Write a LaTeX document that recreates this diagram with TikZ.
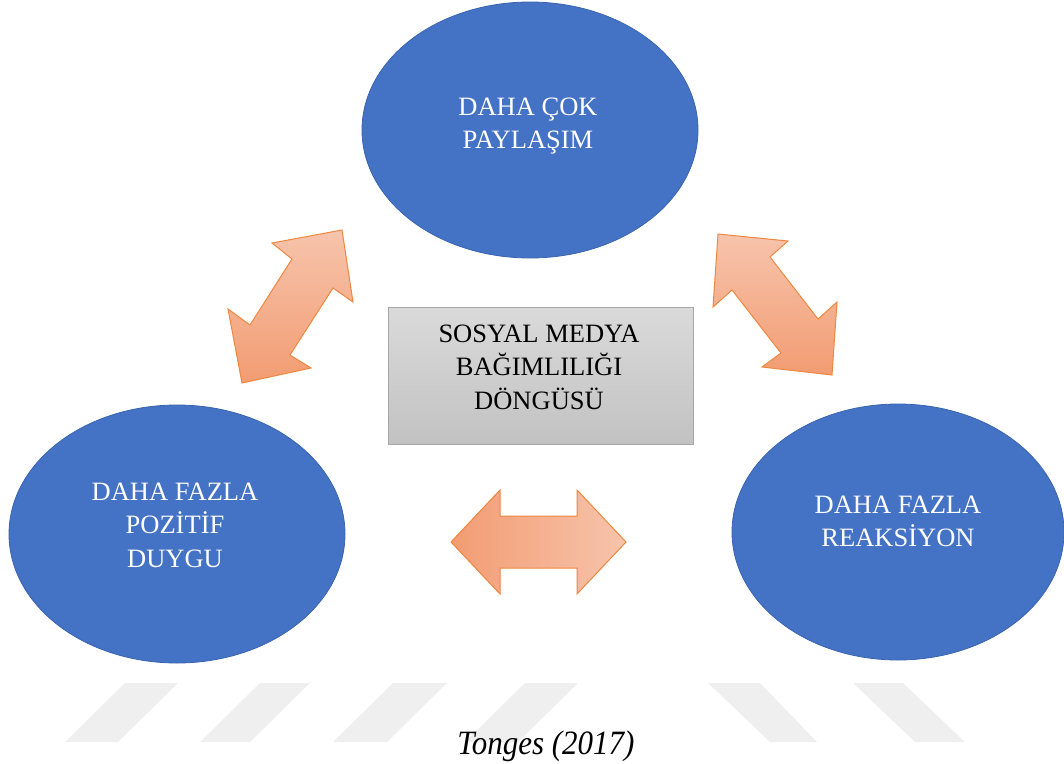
\documentclass[tikz,border=0pt]{standalone}
\usepackage{fontspec}
\setmainfont{Liberation Serif}
\usetikzlibrary{shapes.geometric}
\definecolor{obl}{HTML}{4472C4}
\definecolor{obld}{HTML}{3A64AE}
\definecolor{ordark}{HTML}{F29C72}
\definecolor{orlight}{HTML}{F7C4AC}
\definecolor{oredge}{HTML}{EE8740}
\definecolor{wm}{HTML}{EFEFEF}
\definecolor{gtop}{HTML}{DADADA}
\definecolor{gbot}{HTML}{C2C2C2}
\definecolor{gedge}{HTML}{A6A6A6}
\begin{document}
\begin{tikzpicture}[x=1pt,y=-1pt,
  bubble/.style={ellipse, fill=obl, draw=obld, line width=0.8pt, inner sep=0pt},
  labeltext/.style={anchor=base, inner sep=0pt, font=\fontsize{26.5}{33.5}\selectfont},
  centerbox/.style={rectangle, top color=gtop, bottom color=gbot, draw=gedge, line width=0.8pt, inner sep=0pt},
  blockarrow/.style={draw=oredge, line width=1pt, line join=miter},
  stripe/.style={fill=wm, draw=none}
]
\useasboundingbox (0,0) rectangle (1064,763);

% watermark stripes
\fill[stripe] (65,742) -- (118,742) -- (178,683) -- (125,683) -- cycle;
\fill[stripe] (200,742) -- (250,742) -- (310,683) -- (260,683) -- cycle;
\fill[stripe] (333,742) -- (387,742) -- (447,683) -- (393,683) -- cycle;
\fill[stripe] (465,742) -- (518,742) -- (578,683) -- (525,683) -- cycle;
\fill[stripe] (770,742) -- (817,742) -- (760,683) -- (708,683) -- cycle;
\fill[stripe] (915,742) -- (965,742) -- (903,683) -- (853,683) -- cycle;

% ellipses
\node[bubble, minimum width=336pt, minimum height=256pt] (share) at (530,130) {};
\node[bubble, minimum width=336pt, minimum height=258pt] (pos) at (177,534) {};
\node[bubble, minimum width=332pt, minimum height=256pt] (react) at (898,532) {};

\node[labeltext, text=white] (sharetxt) at (528,115)
  {\begin{tabular}[t]{@{}c@{}}DAHA ÇOK\\PAYLAŞIM\end{tabular}};
\node[labeltext, text=white] (postxt) at (175,500)
  {\begin{tabular}[t]{@{}c@{}}DAHA FAZLA\\POZİTİF\\DUYGU\end{tabular}};
\node[labeltext, text=white] (reacttxt) at (898,513)
  {\begin{tabular}[t]{@{}c@{}}DAHA FAZLA\\REAKSİYON\end{tabular}};

% center box
\node[centerbox, minimum width=305pt, minimum height=137pt] (cycle) at (540.5,375.5) {};
\node[labeltext, text=black] (cycletxt) at (539,342)
  {\begin{tabular}[t]{@{}c@{}}SOSYAL MEDYA\\BAĞIMLILIĞI\\DÖNGÜSÜ\end{tabular}};

% block arrows
\shadedraw[blockarrow, top color=orlight, bottom color=ordark]
  (342,230) -- (353,302) -- (333,288) -- (290,355) -- (311,368) -- (242,383)
  -- (228,309) -- (250,325) -- (292,259) -- (272,243) -- cycle;
\shadedraw[blockarrow, top color=orlight, bottom color=ordark]
  (718,234) -- (788,241) -- (770,257) -- (818,319) -- (837,302) -- (832,375)
  -- (762,367) -- (781,353) -- (732,290) -- (713,307) -- cycle;
\shadedraw[blockarrow, left color=ordark, right color=orlight]
  (451,542) -- (500,490) -- (500,516) -- (577,516) -- (577,490) -- (626,542)
  -- (577,594) -- (577,568) -- (500,568) -- (500,594) -- cycle;

% source
\node[anchor=base, inner sep=0pt, font=\fontsize{31}{36}\selectfont\itshape] (src) at (546,754) {\scalebox{1}[1.1]{Tonges (2017)}};
\end{tikzpicture}
\end{document}
